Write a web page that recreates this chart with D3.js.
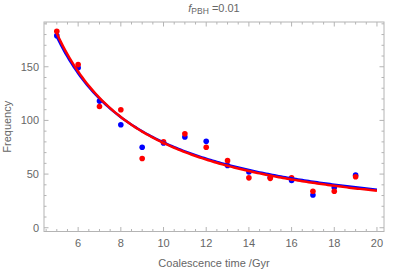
<!DOCTYPE html>
<html>
<head>
<meta charset="utf-8">
<script src="https://cdn.jsdelivr.net/npm/d3@7"></script>
<style>
  body { margin: 0; background: #fff; }
  text { font-family: "Liberation Sans", Arial, sans-serif; }
</style>
</head>
<body>
<svg id="chart" width="407" height="273"></svg>
<script>
// data
var times = [5, 6, 7, 8, 9, 10, 11, 12, 13, 14, 15, 16, 17, 18, 19];
var blueFreq = [179, 149, 118, 96, 75, 79, 84.5, 80.5, 58, 52, 47, 44, 30.5, 37.5, 49];
var redFreq = [183, 152, 113, 110, 64.5, 80, 87.5, 75, 62.5, 46.5, 46, 46.5, 34, 34, 47.5];
// power law fits a * (t/5)^-b
var blueFit = [178, 1.163];
var redFit = [181, 1.196];
var xTicks = [6, 8, 10, 12, 14, 16, 18, 20];
var yTicks = [0, 50, 100, 150];

var frameColor = "#b4b4b4";
var textColor = "#666666";

var svg = d3.select("#chart");

// plot box edges (px)
var pLeft = 44, pRight = 384, pTop = 22, pBottom = 231.5;

var x = d3.scaleLinear().domain([4.4, 20.33]).range([pLeft, pRight]);
var y = d3.scaleLinear().domain([-3.5, 191.7]).range([pBottom, pTop]);

// frame
svg.append("rect")
    .attr("x", pLeft).attr("y", pTop)
    .attr("width", pRight - pLeft).attr("height", pBottom - pTop)
    .attr("fill", "none")
    .attr("stroke", frameColor)
    .attr("stroke-width", 1);

var xMinor = d3.range(4.5, 20.01, 0.5);
var yMinor = d3.range(0, 191, 10);

function tickLen(v, major) { return major.indexOf(v) >= 0 ? 4.5 : 2.5; }

// ticks on all four sides, pointing inward
var tg = svg.append("g").attr("stroke", frameColor).attr("stroke-width", 1);
xMinor.forEach(function(v) {
    var l = tickLen(v, xTicks);
    tg.append("line").attr("x1", x(v)).attr("x2", x(v)).attr("y1", pBottom).attr("y2", pBottom - l);
    tg.append("line").attr("x1", x(v)).attr("x2", x(v)).attr("y1", pTop).attr("y2", pTop + l);
});
yMinor.forEach(function(v) {
    var l = tickLen(v, yTicks);
    tg.append("line").attr("y1", y(v)).attr("y2", y(v)).attr("x1", pLeft).attr("x2", pLeft + l);
    tg.append("line").attr("y1", y(v)).attr("y2", y(v)).attr("x1", pRight).attr("x2", pRight - l);
});

// tick labels
svg.selectAll("text.xt").data(xTicks).enter().append("text")
    .attr("class", "xt")
    .attr("x", function(d) { return x(d); })
    .attr("y", pBottom + 15)
    .attr("text-anchor", "middle")
    .attr("font-size", 11)
    .attr("fill", textColor)
    .text(function(d) { return d; });

svg.selectAll("text.yt").data(yTicks).enter().append("text")
    .attr("class", "yt")
    .attr("x", pLeft - 5)
    .attr("y", function(d) { return y(d) + 4; })
    .attr("text-anchor", "end")
    .attr("font-size", 11)
    .attr("fill", textColor)
    .text(function(d) { return d; });

// axis titles
svg.append("text")
    .attr("x", (pLeft + pRight) / 2).attr("y", 267)
    .attr("text-anchor", "middle")
    .attr("font-size", 11)
    .attr("fill", textColor)
    .text("Coalescence time /Gyr");

svg.append("text")
    .attr("transform", "translate(11," + ((pTop + pBottom) / 2) + ") rotate(-90)")
    .attr("text-anchor", "middle")
    .attr("font-size", 11)
    .attr("fill", textColor)
    .text("Frequency");

// title f_PBH = 0.01
var title = svg.append("text")
    .attr("x", (pLeft + pRight) / 2).attr("y", 12)
    .attr("text-anchor", "middle")
    .attr("font-size", 11)
    .attr("fill", textColor);
title.append("tspan").attr("font-style", "italic").text("f");
title.append("tspan").attr("font-size", 8.5).attr("dy", 2).text("PBH");
title.append("tspan").attr("dy", -2).text(" =0.01");

// points
function drawPoints(vals, color) {
    svg.append("g").selectAll("circle")
        .data(times)
        .enter().append("circle")
        .attr("cx", function(d) { return x(d); })
        .attr("cy", function(d, i) { return y(vals[i]); })
        .attr("r", 2.8)
        .attr("fill", color);
}
drawPoints(blueFreq, "#0000ff");
drawPoints(redFreq, "#ff0000");

// fitted curves
var line = d3.line()
    .x(function(d) { return x(d[0]); })
    .y(function(d) { return y(d[1]); });

function drawFit(p, color) {
    var pts = d3.range(5, 20.001, 0.1).map(function(t) { return [t, p[0] * Math.pow(t / 5, -p[1])]; });
    svg.append("path")
        .attr("d", line(pts))
        .attr("fill", "none")
        .attr("stroke", color)
        .attr("stroke-width", 2.5);
}
drawFit(blueFit, "#0000ff");
drawFit(redFit, "#ff0000");
</script>
</body>
</html>
